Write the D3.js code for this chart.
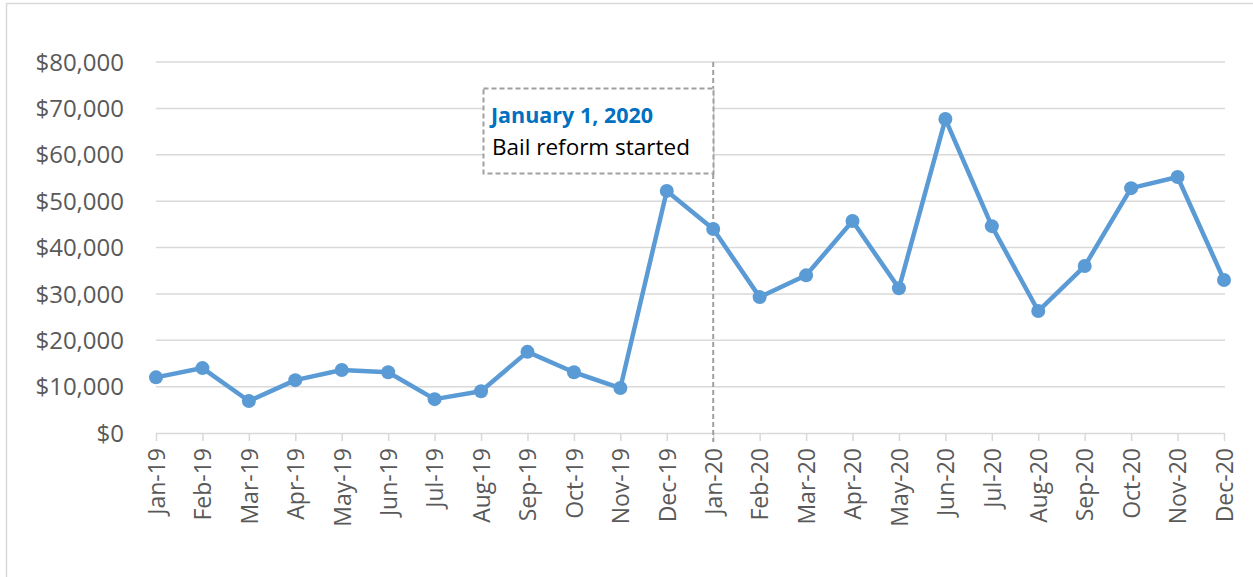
<!DOCTYPE html>
<html>
<head>
  <meta charset="utf-8">
  <title>Bail reform chart</title>
  <script src="https://cdn.jsdelivr.net/npm/d3@7"></script>
  <style>
    body { margin: 0; background: #fff; }
    text { font-family: "Open Sans", "Noto Sans", sans-serif; }
  </style>
</head>
<body>
  <svg id="chart" width="1253" height="577"></svg>
  <script type="text/javascript">
    // monthly values
    var months = ["Jan-19","Feb-19","Mar-19","Apr-19","May-19","Jun-19","Jul-19","Aug-19","Sep-19","Oct-19","Nov-19","Dec-19",
                  "Jan-20","Feb-20","Mar-20","Apr-20","May-20","Jun-20","Jul-20","Aug-20","Sep-20","Oct-20","Nov-20","Dec-20"];
    var amounts = [12000, 14000, 6900, 11400, 13600, 13100, 7300, 9000, 17500, 13100, 9700, 52200,
                   44000, 29300, 34000, 45700, 31200, 67700, 44600, 26300, 36000, 52800, 55200, 33000];
    var yTicks = [0, 10000, 20000, 30000, 40000, 50000, 60000, 70000, 80000];
    var markerMonth = "Jan-20";
    var noteTitle = "January 1, 2020";
    var noteText = "Bail reform started";

    var svg = d3.select('#chart');

    // outer frame
    svg.append('rect').attr('x', 6.5).attr('y', 3.5).attr('width', 1260).attr('height', 600)
      .attr('fill', 'none').attr('stroke', '#d9d9d9').attr('stroke-width', 1.5);

    var x = d3.scalePoint().domain(months).range([156, 1224]);
    var y = d3.scaleLinear().domain([0, 80000]).range([433, 62]);

    // gridlines
    svg.append('g').selectAll('line').data(yTicks.slice(1)).enter().append('line')
      .attr('x1', 156).attr('x2', 1225)
      .attr('y1', function(d) { return y(d); }).attr('y2', function(d) { return y(d); })
      .attr('stroke', '#d9d9d9').attr('stroke-width', 1.5);

    // y axis labels
    var fmt = d3.format(',');
    svg.append('g').selectAll('text').data(yTicks).enter().append('text')
      .attr('x', 124).attr('y', function(d) { return y(d); }).attr('dy', '0.36em')
      .attr('text-anchor', 'end').attr('fill', '#595959').style('font-size', '24px')
      .text(function(d) { return '$' + fmt(d); });

    // x axis
    var xAxis = svg.append('g').attr('transform', 'translate(0,433)')
      .call(d3.axisBottom(x).tickSize(8).tickSizeOuter(0));
    xAxis.select('.domain').attr('stroke', '#d9d9d9').attr('stroke-width', 1.5).attr('d', 'M156,0.5H1225');
    xAxis.selectAll('.tick line').attr('stroke', '#d9d9d9').attr('stroke-width', 1.5);
    xAxis.selectAll('.tick text')
      .attr('transform', 'rotate(-90)').attr('text-anchor', 'end')
      .attr('x', -15).attr('y', 0).attr('dy', '0.36em')
      .attr('fill', '#595959').style('font-size', '23px');

    // reform marker line
    svg.append('line')
      .attr('x1', x(markerMonth)).attr('x2', x(markerMonth))
      .attr('y1', 62).attr('y2', 442)
      .attr('stroke', '#a0a0a0').attr('stroke-width', 2).attr('stroke-dasharray', '5,3');

    // annotation box
    var note = svg.append('g');
    note.append('rect').attr('x', 483.5).attr('y', 88.5).attr('width', 230).attr('height', 85)
      .attr('fill', '#fff').attr('stroke', '#a0a0a0').attr('stroke-width', 2).attr('stroke-dasharray', '5,3');
    note.append('text').attr('x', 491).attr('y', 123).attr('fill', '#0070c0')
      .style('font-size', '21.5px').style('font-weight', 'bold').text(noteTitle);
    note.append('text').attr('x', 492).attr('y', 155).attr('fill', '#000')
      .style('font-size', '22.5px').text(noteText);

    // series line + markers
    var line = d3.line()
      .x(function(d, i) { return x(months[i]); })
      .y(function(d) { return y(d); });
    svg.append('path').datum(amounts).attr('d', line)
      .attr('fill', 'none').attr('stroke', '#5b9bd5').attr('stroke-width', 4.5)
      .attr('stroke-linejoin', 'round');
    svg.append('g').selectAll('circle').data(amounts).enter().append('circle')
      .attr('cx', function(d, i) { return x(months[i]); })
      .attr('cy', function(d) { return y(d); })
      .attr('r', 7).attr('fill', '#5b9bd5');
  </script>
</body>
</html>
